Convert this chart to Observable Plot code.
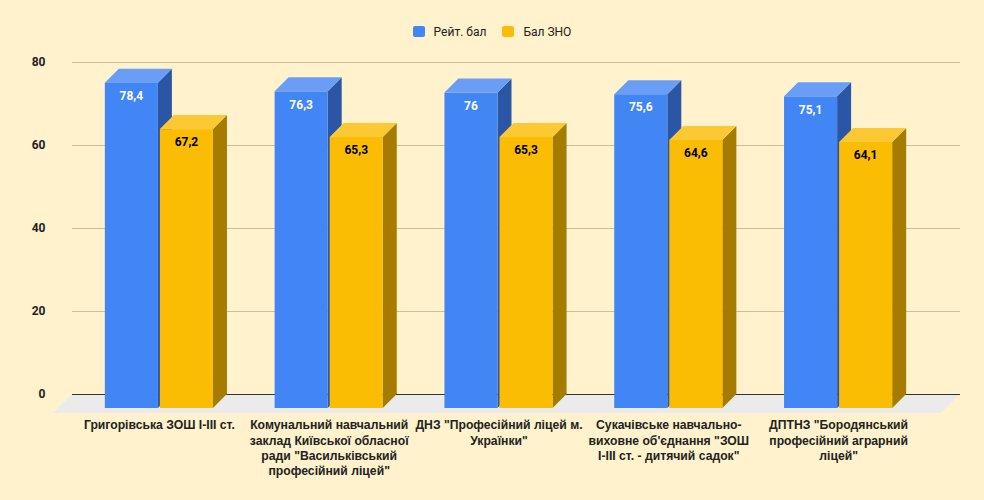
<!DOCTYPE html>
<html>
<head>
<meta charset="utf-8">
<script src="https://cdn.jsdelivr.net/npm/d3@7"></script>
<script src="https://cdn.jsdelivr.net/npm/@observablehq/plot@0.6"></script>
<style>
  html, body { margin: 0; padding: 0; background: #FFF2CC; width: 984px; height: 500px; overflow: hidden; }
  #legend { height: 45px; display: flex; justify-content: center; align-items: center; padding-top: 18px; box-sizing: border-box;
    font-family: Roboto, "Liberation Sans", sans-serif; font-size: 12px; color: #222; padding-left: 0px; }
  #legend .item { display: flex; align-items: center; margin: 0 8px; }
  #legend .sw { width: 12px; height: 11px; border-radius: 2px; margin-right: 9px; display: inline-block; }
  #chart svg { display: block; }
</style>
</head>
<body>
<div id="legend"></div>
<div id="chart"></div>
<script>
const categories = [
  "Григорівська ЗОШ I-III ст.",
  "Комунальний навчальний\nзаклад Київської обласної\nради \"Васильківський\nпрофесійний ліцей\"",
  "ДНЗ \"Професійний ліцей м.\nУкраїнки\"",
  "Сукачівське навчально-\nвиховне об'єднання \"ЗОШ\nI-III ст. - дитячий садок\"",
  "ДПТНЗ \"Бородянський\nпрофесійний аграрний\nліцей\""
];
const seriesNames = ["Рейт. бал", "Бал ЗНО"];
const ratingValues = [78.4, 76.3, 76, 75.6, 75.1];
const znoValues = [67.2, 65.3, 65.3, 64.6, 64.1];
const yTicks = [0, 20, 40, 60, 80];

const palette = [
  {front: "#4285F4", top: "#6A9EF6", side: "#2B56A5", label: "#ffffff"},
  {front: "#FBBC04", top: "#FCC934", side: "#A67C00", label: "#000000"}
];

// legend
const legend = document.getElementById("legend");
seriesNames.forEach((name, i) => {
  const it = document.createElement("span");
  it.className = "item";
  const sw = document.createElement("span");
  sw.className = "sw";
  sw.style.background = palette[i].front;
  it.appendChild(sw);
  it.appendChild(document.createTextNode(name));
  legend.appendChild(it);
});

const table = [];
categories.forEach((c, i) => {
  table.push({category: c, series: 0, value: ratingValues[i]});
  table.push({category: c, series: 1, value: znoValues[i]});
});

const DEPTH = 14;
const FLOOR = 19;

function floorMark(index, scales, values, dims) {
  const y = scales.y;
  const y0 = y(0);
  const xl = dims.marginLeft, xr = dims.width - dims.marginRight;
  const g = d3.create("svg:g");
  g.append("path")
    .attr("d", `M${xl},${y0}L${xr},${y0}L${xr - FLOOR},${y0 + FLOOR}L${xl - FLOOR},${y0 + FLOOR}Z`)
    .attr("fill", "#EBEBEB");
  return g.node();
}

function barsMark(index, scales, values, dims) {
  const x = scales.x, y = scales.y;
  const bw = x.bandwidth();
  const w = bw * 0.3125;
  const gap = 1;
  const y0 = y(0);
  const g = d3.create("svg:g");
  for (const d of table) {
    const cf = x(d.category) + bw / 2 - DEPTH;
    const x0 = d.series === 0 ? cf - gap - w : cf + gap;
    const x1 = x0 + w;
    const ft = y(d.value) + DEPTH;
    const fb = y0 + DEPTH;
    const p = palette[d.series];
    g.append("path")
      .attr("d", `M${x1},${ft}L${x1 + DEPTH},${ft - DEPTH}L${x1 + DEPTH},${fb - DEPTH}L${x1},${fb}Z`)
      .attr("fill", p.side);
    g.append("path")
      .attr("d", `M${x0},${ft}L${x0 + DEPTH},${ft - DEPTH}L${x1 + DEPTH},${ft - DEPTH}L${x1},${ft}Z`)
      .attr("fill", p.top);
    g.append("rect")
      .attr("x", x0).attr("y", ft).attr("width", w).attr("height", fb - ft)
      .attr("fill", p.front);
    g.append("text")
      .attr("x", (x0 + x1) / 2).attr("y", ft + 13).attr("dy", "0.35em")
      .attr("text-anchor", "middle")
      .attr("fill", p.label)
      .attr("font-family", "Roboto, sans-serif")
      .attr("font-size", 12).attr("font-weight", "bold")
      .text(String(d.value).replace(".", ","));
  }
  return g.node();
}

const plot = Plot.plot({
  width: 984,
  height: 455,
  marginTop: 17,
  marginBottom: 106,
  marginLeft: 72,
  marginRight: 24,
  style: {background: "transparent", fontFamily: "Roboto, sans-serif", fontSize: "12px", fontWeight: "bold", color: "#222"},
  x: {type: "band", domain: categories, range: [88, 937], padding: 0, round: false, axis: null},
  y: {domain: [0, 80], ticks: yTicks, tickSize: 0, tickPadding: 27, label: null, tickFormat: d => String(d)},
  marks: [
    Plot.ruleY(yTicks.filter(t => t > 0), {stroke: "#CDBE98", strokeWidth: 1}),
    floorMark,
    Plot.ruleY([0], {stroke: "#333333", strokeWidth: 1.2}),
    barsMark,
    Plot.text(categories, {
      x: d => d, y: d => 0, text: d => d,
      dx: -DEPTH, dy: 24, lineAnchor: "top", lineHeight: 1.25,
      fontFamily: "'Liberation Sans', Arial, sans-serif", fontSize: 12.2, fontWeight: "bold", fill: "#222"
    })
  ]
});
document.getElementById("chart").appendChild(plot);
</script>
</body>
</html>
